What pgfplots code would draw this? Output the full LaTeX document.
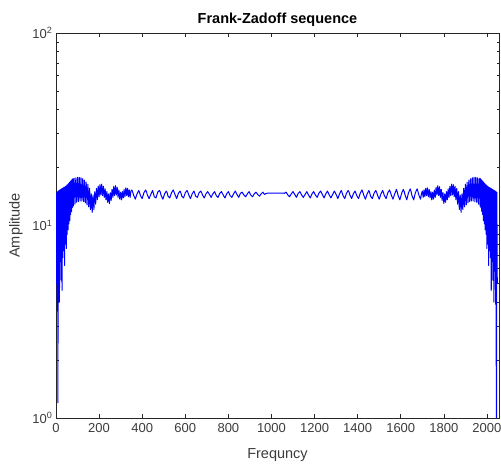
\documentclass[border=0pt]{standalone}
\usepackage{pgfplots}
\pgfplotsset{compat=1.18}
\usepackage{fontspec}
\setmainfont{Liberation Sans}
\definecolor{axgray}{gray}{0.15}
\begin{document}
\begin{tikzpicture}
\begin{axis}[
  scale only axis, width=443pt, height=385pt,
  xmin=0, xmax=2056, ymin=1, ymax=100, ymode=log,
  xtick={0,200,...,2000},
  ytick={1,10,100},
  yticklabels={10\textsuperscript{0},10\textsuperscript{1},10\textsuperscript{2}},
  /pgf/number format/1000 sep={},
  /pgf/number format/assume math mode=true,
  tick align=inside,
  major tick length=4.5pt, minor tick length=2.5pt,
  tick style={axgray, line width=0.5pt},
  axis line style={axgray, line width=0.6pt},
  ticklabel style={font=\fontsize{13}{14}\selectfont, text=axgray!90},
  xticklabel style={yshift=-2pt},
  title={\bfseries Frank-Zadoff sequence},
  title style={font=\fontsize{14.5}{16}\selectfont, yshift=-3pt},
  xlabel={Frequncy}, ylabel={Amplitude},
  label style={font=\fontsize{14.5}{16}\selectfont, text=axgray!90},
  xlabel style={yshift=-9pt},
  ylabel style={yshift=3pt},
]
\addplot[color=blue, line width=1.0pt, line join=round] coordinates {
(0,14.6)(2,5.0)(4,14.9)(6,3.6)(8,15.0)(9,1.2)(10,15.1)(12,5.8)(14,15.2)(16,4.0)(18,15.3)(20,6.5)(22,15.4)(24,5.2)(26,15.5)(28,4.6)(30,15.6)(32,6.8)(34,15.7)(36,7.4)(38,15.8)(40,6.2)(42,15.9)(44,8.0)(46,16.0)(48,7.6)(50,16.2)(52,9.0)(54,16.3)(56,9.5)(58,16.5)(60,10.2)(62,16.7)(64,10.6)(66,16.9)(68,11.4)(70,17.1)(72,11.8)(74,17.3)(76,12.4)(78,17.5)(80,12.6)
(84,17.6)(88,12.9)(92,17.7)(96,13.2)(100,17.8)(104,13.3)(108,17.8)(112,13.4)(116,17.7)(120,13.4)(124,17.5)(128,13.3)(132,17.2)(136,13.1)(140,16.8)(144,12.8)(148,16.4)(152,12.5)
(156,15.6)(160,12.1)(164,14.6)(168,11.7)(172,14.4)(176,12.1)(180,15.0)(184,12.9)(188,15.6)(192,13.6)(196,16.0)(200,14.1)(204,16.3)(208,14.4)(212,16.4)(216,14.3)(220,16.0)(224,14.0)(228,15.5)(232,13.6)(236,15.0)(240,13.2)(244,14.6)(248,13.0)(252,14.8)(256,13.5)(260,15.4)(264,14.0)(268,15.9)(272,14.3)(276,16.1)(280,14.4)(284,15.8)(288,14.0)(292,15.3)(296,13.7)(300,14.9)(304,13.6)(308,15.0)(312,13.9)(316,15.4)(320,14.1)(324,15.7)(328,14.3)(332,15.6)(336,14.1)(340,15.3)(344,14.0)(348,15.1)
(352,15.3)(356,14.9)(360,14.4)(368,13.7)(376,14.6)(384,15.2)(388,14.8)(392,14.3)(400,13.8)(408,14.8)(416,15.3)(420,15.0)(424,14.4)(432,13.8)(440,14.5)(448,15.2)(452,14.7)(456,14.1)(464,13.9)(472,14.9)(480,15.2)(484,14.9)(488,14.3)(496,13.7)(504,14.6)(512,15.1)(516,14.8)(520,14.2)(528,13.9)(536,14.8)(544,15.3)(548,14.9)(552,14.5)(560,13.8)(568,14.7)(576,15.1)(580,14.7)(584,14.2)(592,13.9)(600,14.8)(608,15.2)(612,14.9)(616,14.4)(624,13.8)(632,14.6)(640,15.1)(644,14.7)(648,14.2)(656,14.0)(664,14.8)(672,15.1)(676,14.8)(680,14.4)(688,13.9)(696,14.6)
(704,15.0)(712,14.5)(720,14.0)(728,14.6)(736,15.0)(744,14.3)(752,14.0)(760,14.7)(768,15.0)(776,14.4)(784,13.9)(792,14.6)(800,15.0)(808,14.3)(816,14.0)(824,14.6)(832,15.1)(840,14.5)(848,14.0)(856,14.7)(864,14.9)(872,14.4)(880,14.1)(888,14.6)(896,15.0)(904,14.4)(912,14.1)(920,14.6)(928,14.9)(936,14.5)(944,14.2)(952,14.6)
(960,14.9)(968,14.5)(976,14.7)(1000,14.75)(1024,14.74)(1048,14.75)(1060,14.7)
(1068,14.9)(1076,14.4)(1084,14.1)(1092,14.6)(1100,15.0)(1108,14.5)(1116,14.0)(1124,14.7)(1132,15.0)(1140,14.4)(1148,14.0)(1156,14.5)(1164,15.0)(1172,14.4)(1180,13.9)(1188,14.6)(1196,15.0)(1204,14.4)(1212,14.0)(1220,14.7)(1228,15.1)(1236,14.5)(1244,13.9)(1252,14.6)(1260,15.1)(1268,14.4)(1276,13.9)(1284,14.5)(1292,15.1)(1300,14.5)
(1308,13.8)(1316,14.6)(1324,15.2)(1328,14.8)(1332,14.3)(1340,13.8)(1348,14.7)(1356,15.2)(1360,14.9)(1364,14.4)(1372,13.8)(1380,14.6)(1388,15.1)(1392,14.7)(1396,14.3)(1404,13.8)(1412,14.7)(1420,15.3)(1424,14.9)(1428,14.4)(1436,13.7)(1444,14.6)(1452,15.2)(1456,14.8)(1460,14.2)(1468,13.8)(1476,14.7)(1484,15.2)(1488,14.9)(1492,14.4)(1500,13.7)(1508,14.6)(1516,15.2)(1520,14.8)(1524,14.3)(1532,13.8)(1540,14.8)(1548,15.3)
(1552,14.9)(1556,14.4)(1564,13.7)(1572,14.6)(1580,15.4)(1584,14.9)(1588,14.3)(1596,13.6)(1604,14.7)(1612,15.4)(1616,15.0)(1620,14.4)(1628,13.6)(1636,14.8)(1644,15.5)(1648,15.0)(1652,14.3)(1660,13.6)(1668,14.8)(1676,15.5)(1680,15.0)(1684,14.4)(1692,13.7)(1696,14.6)
(1700,15.1)(1704,14.0)(1708,15.3)(1712,14.1)(1716,15.6)(1720,14.3)(1724,15.7)(1728,14.1)(1732,15.4)(1736,13.9)(1740,15.0)(1744,13.6)(1748,14.9)(1752,13.7)(1756,15.3)(1760,14.0)(1764,15.8)(1768,14.4)(1772,16.1)(1776,14.3)(1780,15.9)(1784,14.0)(1788,15.4)(1792,13.5)(1796,14.8)(1800,13.0)(1804,14.6)(1808,13.2)(1812,15.0)(1816,13.6)(1820,15.5)(1824,14.0)(1828,16.0)(1832,14.3)(1836,16.4)(1840,14.4)(1844,16.3)(1848,14.1)(1852,16.0)(1856,13.6)(1860,15.6)(1864,12.9)(1868,15.0)(1872,12.1)(1876,14.4)(1880,11.7)(1884,14.6)(1888,12.1)(1892,15.6)
(1896,12.5)(1900,16.4)(1904,12.8)(1908,16.8)(1912,13.1)(1916,17.2)(1920,13.3)(1924,17.5)(1928,13.4)(1932,17.7)(1936,13.4)(1940,17.8)(1944,13.3)(1948,17.8)(1952,13.2)(1956,17.7)(1960,12.9)(1964,17.6)(1968,12.6)
(1970,17.5)(1972,12.4)(1974,17.3)(1976,11.8)(1978,17.1)(1980,11.4)(1982,16.9)(1984,10.6)(1986,16.7)(1988,10.2)(1990,16.5)(1992,9.5)(1994,16.3)(1996,9.0)(1998,16.2)(2000,7.6)(2002,16.0)(2004,8.0)(2006,15.9)(2008,6.2)(2010,15.8)(2012,7.4)(2014,15.7)(2016,6.8)(2018,15.6)(2020,4.6)(2022,15.5)(2024,5.2)(2026,15.4)(2028,6.5)(2030,15.3)(2032,4.0)(2034,15.2)(2036,5.8)(2038,15.1)(2040,3.9)(2042,15.0)(2044,0.5)(2046,14.9)(2048,5.0)
};
\end{axis}
\path (current axis.south west) ++(-56pt,-50pt) coordinate (bbsw);
\path (current axis.north east) ++(2pt,33pt) coordinate (bbne);
\pgfresetboundingbox
\useasboundingbox (bbsw) rectangle (bbne);
\end{tikzpicture}
\end{document}
